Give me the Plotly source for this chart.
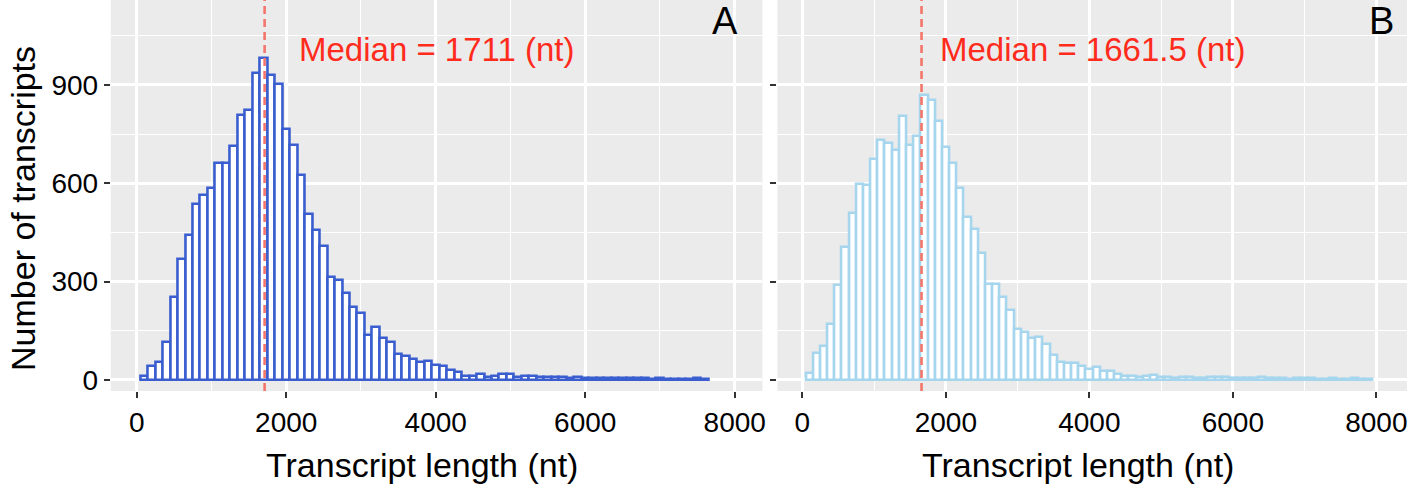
import plotly.graph_objects as go

# ---- data ----
bin_width = 100
centers_a = list(range(100, 7700, 100))
counts_a = [12, 43, 55, 116, 252, 368, 441, 536, 564, 587,
            662, 663, 714, 808, 825, 935, 981, 930, 903, 765,
            717, 625, 506, 457, 409, 313, 305, 264, 224, 203,
            137, 161, 127, 117, 78, 73, 63, 56, 58, 45,
            43, 30, 23, 12, 12, 17, 10, 12, 17, 17,
            10, 12, 12, 10, 10, 8, 8, 6, 10, 7,
            6, 5, 5, 6, 7, 6, 5, 5, 4, 5,
            4, 4, 3, 4, 5, 4]
centers_b = list(range(100, 8000, 100))
counts_b = [20, 81, 104, 171, 290, 407, 508, 598, 595, 674,
            732, 724, 700, 805, 717, 744, 870, 854, 791, 712,
            663, 585, 498, 462, 386, 293, 293, 254, 214, 155,
            147, 127, 130, 110, 76, 56, 53, 53, 44, 33,
            41, 28, 27, 18, 13, 13, 8, 12, 14, 8,
            8, 7, 8, 8, 7, 7, 10, 10, 8, 6,
            7, 6, 5, 9, 6, 5, 5, 4, 6, 5,
            5, 4, 4, 5, 4, 4, 5, 4, 4]
median_a = 1711
median_b = 1661.5
x_ticks = [0, 2000, 4000, 6000, 8000]
y_ticks = [0, 300, 600, 900]
panel_labels = ["A", "B"]
median_texts = ["Median = 1711 (nt)", "Median = 1661.5 (nt)"]
x_title = "Transcript length (nt)"
y_title = "Number of transcripts"

color_a = "#3A5ECF"
color_b = "#A6D5EE"
median_color = "#F4766A"
text_red = "#FF2B1C"
FONT = "Liberation Sans, Arial, Helvetica, sans-serif"

W, H = 1416, 491
plot_bottom = 391  # pixel row of panel bottom

fig = go.Figure()
fig.add_trace(go.Bar(x=centers_a, y=counts_a, width=bin_width,
                     marker=dict(color="white", line=dict(color=color_a, width=2.6)),
                     xaxis="x", yaxis="y", showlegend=False))
fig.add_trace(go.Bar(x=centers_b, y=counts_b, width=bin_width,
                     marker=dict(color="white", line=dict(color=color_b, width=2.6)),
                     xaxis="x2", yaxis="y2", showlegend=False))

grid = dict(showgrid=True, gridcolor="white", gridwidth=2.5, zeroline=False,
            showline=False, ticks="outside", ticklen=6, tickwidth=2,
            tickcolor="#333333", tickfont=dict(family=FONT, size=28, color="black"))
yr = [-33.6, 1159]

fig.update_layout(
    width=W, height=H,
    margin=dict(l=0, r=0, t=0, b=H - plot_bottom),
    paper_bgcolor="white", plot_bgcolor="#EBEBEB",
    bargap=0,
    xaxis=dict(domain=[111 / W, 764 / W], range=[-347, 8370], tickvals=x_ticks,
               anchor="y",
               minor=dict(dtick=1000, tick0=0, showgrid=True, gridcolor="white",
                          gridwidth=1.2, ticks=""), **grid),
    yaxis=dict(domain=[0, 1], range=yr, tickvals=y_ticks, anchor="x",
               minor=dict(dtick=150, tick0=0, showgrid=True, gridcolor="white",
                          gridwidth=1.2, ticks=""), **grid),
    xaxis2=dict(domain=[779 / W, 1410 / W], range=[-348, 8428], tickvals=x_ticks,
                anchor="y2",
                minor=dict(dtick=1000, tick0=0, showgrid=True, gridcolor="white",
                           gridwidth=1.2, ticks=""), **grid),
    yaxis2=dict(domain=[0, 1], range=yr, tickvals=y_ticks, anchor="x2",
                showticklabels=False,
                minor=dict(dtick=150, tick0=0, showgrid=True, gridcolor="white",
                           gridwidth=1.2, ticks=""), **grid),
)

for xref, yref, med in [("x", "y domain", median_a), ("x2", "y2 domain", median_b)]:
    fig.add_shape(type="line", xref=xref, yref=yref, x0=med, x1=med, y0=0, y1=1,
                  line=dict(color=median_color, width=2.6, dash="8px,5px"))

def py(pix):
    return (plot_bottom - pix) / plot_bottom

fig.add_annotation(x=2150, xref="x", y=py(50), yref="paper", text=median_texts[0],
                   showarrow=False, xanchor="left", yanchor="middle",
                   font=dict(family=FONT, size=33, color=text_red))
fig.add_annotation(x=1889, xref="x2", y=py(50), yref="paper", text=median_texts[1],
                   showarrow=False, xanchor="left", yanchor="middle",
                   font=dict(family=FONT, size=33, color=text_red))
fig.add_annotation(x=727 / W, xref="paper", y=py(21), yref="paper", text=panel_labels[0],
                   showarrow=False, xanchor="center", yanchor="middle",
                   font=dict(family=FONT, size=38, color="black"))
fig.add_annotation(x=1384 / W, xref="paper", y=py(21), yref="paper", text=panel_labels[1],
                   showarrow=False, xanchor="center", yanchor="middle",
                   font=dict(family=FONT, size=38, color="black"))
fig.add_annotation(x=423 / W, xref="paper", y=py(465), yref="paper", text=x_title,
                   showarrow=False, xanchor="center", yanchor="middle",
                   font=dict(family=FONT, size=34, color="black"))
fig.add_annotation(x=1080 / W, xref="paper", y=py(465), yref="paper", text=x_title,
                   showarrow=False, xanchor="center", yanchor="middle",
                   font=dict(family=FONT, size=34, color="black"))
fig.add_annotation(x=23 / W, xref="paper", y=py(208), yref="paper", text=y_title,
                   textangle=-90, showarrow=False, xanchor="center", yanchor="middle",
                   font=dict(family=FONT, size=34, color="black"))

fig.write_html("out.html", config={"displayModeBar": False},
               post_script="document.body.style.margin='0';document.body.style.overflow='hidden';")
